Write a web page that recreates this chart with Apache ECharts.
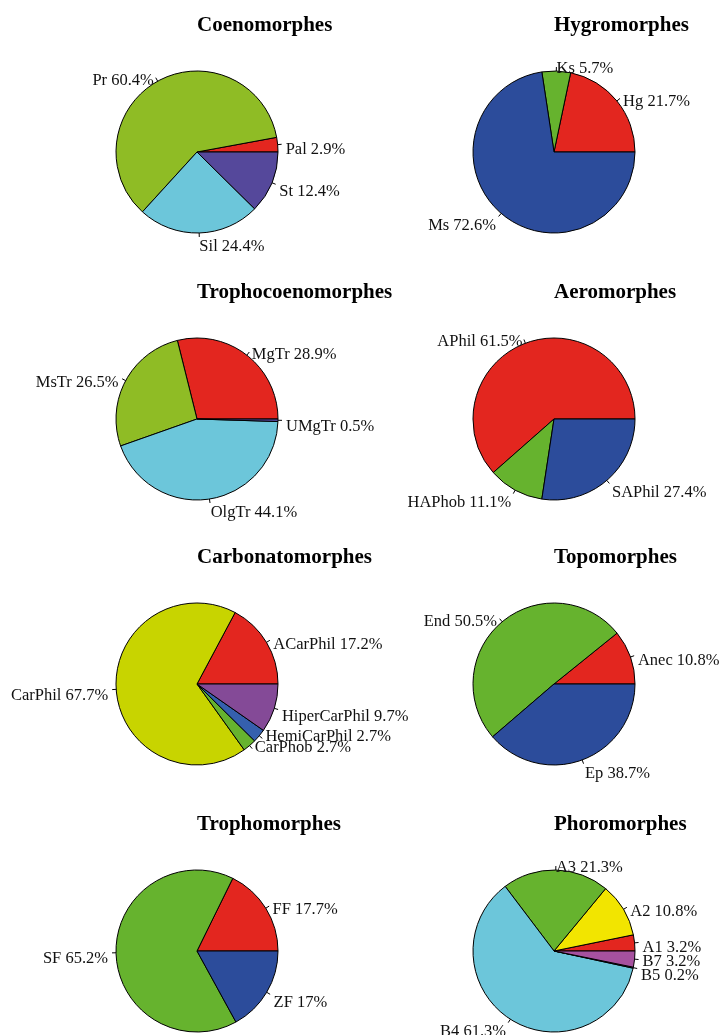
<!DOCTYPE html>
<html>
<head>
<meta charset="utf-8">
<script src="https://cdn.jsdelivr.net/npm/echarts@6/dist/echarts.min.js"></script>
<style>
  html, body { margin: 0; padding: 0; background: #fff; }
  #chart { width: 724px; height: 1035px; }
</style>
</head>
<body>
<div id="chart"></div>
<script>
// ---- data: one pair of arrays per morphological group ----
const coenoNames = ['Pal', 'Pr', 'Sil', 'St'];
const coenoValues = [2.9, 60.4, 24.4, 12.4];

const hygroNames = ['Hg', 'Ks', 'Ms'];
const hygroValues = [21.7, 5.7, 72.6];

const trophocoenoNames = ['MgTr', 'MsTr', 'OlgTr', 'UMgTr'];
const trophocoenoValues = [28.9, 26.5, 44.1, 0.5];

const aeroNames = ['APhil', 'HAPhob', 'SAPhil'];
const aeroValues = [61.5, 11.1, 27.4];

const carbonatoNames = ['ACarPhil', 'CarPhil', 'CarPhob', 'HemiCarPhil', 'HiperCarPhil'];
const carbonatoValues = [17.2, 67.7, 2.7, 2.7, 9.7];

const topoNames = ['Anec', 'End', 'Ep'];
const topoValues = [10.8, 50.5, 38.7];

const trophoNames = ['FF', 'SF', 'ZF'];
const trophoValues = [17.7, 65.2, 17];

const phoroNames = ['A1', 'A2', 'A3', 'B4', 'B5', 'B7'];
const phoroValues = [3.2, 10.8, 21.3, 61.3, 0.2, 3.2];

const panelTitles = ['Coenomorphes', 'Hygromorphes', 'Trophocoenomorphes', 'Aeromorphes',
                     'Carbonatomorphes', 'Topomorphes', 'Trophomorphes', 'Phoromorphes'];

// ---- styling ----
const RED = '#E3261F', LIME = '#8FBC25', GREEN = '#66B32E', CYAN = '#6CC6DA',
      BLUE = '#2C4C9B', VIOLET = '#55489B', PURPLE = '#844A97', MAGENTA = '#A6519F',
      OLIVE = '#C8D400', YELLOW = '#F2E500', MIDBLUE = '#3560AE';

const panels = [
  { names: coenoNames, values: coenoValues, colors: [RED, LIME, CYAN, VIOLET] },
  { names: hygroNames, values: hygroValues, colors: [RED, GREEN, BLUE] },
  { names: trophocoenoNames, values: trophocoenoValues, colors: [RED, LIME, CYAN, VIOLET] },
  { names: aeroNames, values: aeroValues, colors: [RED, GREEN, BLUE] },
  { names: carbonatoNames, values: carbonatoValues, colors: [RED, OLIVE, GREEN, MIDBLUE, PURPLE] },
  { names: topoNames, values: topoValues, colors: [RED, GREEN, BLUE] },
  { names: trophoNames, values: trophoValues, colors: [RED, GREEN, BLUE] },
  { names: phoroNames, values: phoroValues, colors: [RED, YELLOW, GREEN, CYAN, BLUE, MAGENTA] }
];

const colX = [197, 554];
const rowY = [152, 419, 684, 951];
const R = 81;
const TICK = 4;          // leader tick: from r to r + TICK
const LABEL_GAP = 8;     // label anchor sits at r + LABEL_GAP
const SERIF = '"Liberation Serif", "DejaVu Serif", serif';

// vertical drop of a label below its anchor (px); crowded labels sit a little higher
const DEFAULT_DROP = 6;
const labelDrop = { CarPhob: -4, HemiCarPhil: -4, B7: 2 };

function dropOf(name) {
  return labelDrop.hasOwnProperty(name) ? labelDrop[name] : DEFAULT_DROP;
}

const titles = [];
const series = [];
panels.forEach(function (p, i) {
  const cx = colX[i % 2];
  const cy = rowY[Math.floor(i / 2)];
  titles.push({
    text: panelTitles[i],
    left: cx,
    top: cy - 137,
    padding: 0,
    textStyle: { fontFamily: SERIF, fontWeight: 'bold', fontSize: 21, color: '#000' }
  });

  const data = p.names.map(function (n, k) {
    // an empty line above (or below) the text shifts it down (or up) by half a line
    const drop = dropOf(n);
    return {
      name: n,
      value: p.values[k],
      itemStyle: { color: p.colors[k] },
      label: { lineHeight: Math.max(2, Math.abs(drop) * 2) }
    };
  });

  // filled slices with their text labels
  series.push({
    type: 'pie',
    center: [cx, cy],
    radius: [0, R],
    startAngle: 0,
    clockwise: false,
    avoidLabelOverlap: false,
    labelLayout: { hideOverlap: false },
    silent: true,
    itemStyle: { borderColor: '#000', borderWidth: 1 },
    label: {
      show: true,
      position: 'outside',
      fontFamily: SERIF,
      fontSize: 16.5,
      color: '#111',
      distanceToLabelLine: 0,
      formatter: function (d) {
        const txt = d.name + ' ' + d.value + '%';
        return dropOf(d.name) >= 0 ? '\n' + txt : txt + '\n';
      }
    },
    labelLine: { show: false, length: LABEL_GAP, length2: 0 },
    data: data
  });

  // short leader ticks on the rim of each slice
  series.push({
    type: 'pie',
    center: [cx, cy],
    radius: [0, R],
    startAngle: 0,
    clockwise: false,
    avoidLabelOverlap: false,
    labelLayout: { hideOverlap: false },
    silent: true,
    z: 3,
    itemStyle: { color: 'rgba(0,0,0,0)', borderWidth: 0 },
    label: {
      show: true,
      position: 'outside',
      fontSize: 1,
      color: 'rgba(0,0,0,0)',
      distanceToLabelLine: 0,
      formatter: ' '
    },
    labelLine: { show: true, length: TICK, length2: 0, lineStyle: { color: '#000', width: 1 } },
    data: p.names.map(function (n, k) { return { name: n, value: p.values[k] }; })
  });
});

const chart = echarts.init(document.getElementById('chart'), null, { renderer: 'canvas' });
chart.setOption({
  backgroundColor: '#fff',
  animation: false,
  title: titles,
  series: series
});
</script>
</body>
</html>
